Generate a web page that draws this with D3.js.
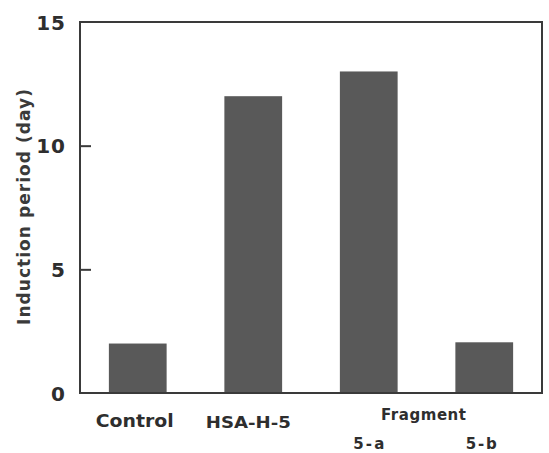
<!DOCTYPE html>
<html>
<head>
<meta charset="utf-8">
<script src="https://cdn.jsdelivr.net/npm/d3@7"></script>
<style>
  html, body { margin: 0; padding: 0; background: #fff; }
  svg text { font-family: "DejaVu Sans", "Liberation Sans", sans-serif; font-weight: bold; fill: #2e2e2e; }
</style>
</head>
<body>
<svg id="chart" width="549" height="453"></svg>
<script>
// Induction period by sample
const categories = ["Control", "HSA-H-5", "5-a", "5-b"];
const values = [2, 12, 13, 2.05];
const yTicks = [0, 5, 10, 15];
const groupLabel = "Fragment";
const yTitle = "Induction period (day)";

const svg = d3.select("#chart");
const box = { left: 80, right: 542, top: 22, bottom: 393 };

const x = d3.scaleBand()
  .domain(categories)
  .range([box.left, box.right])
  .paddingInner(0.5)
  .paddingOuter(0.25);

const y = d3.scaleLinear().domain([0, 15]).range([box.bottom, box.top]);

// bars
svg.append("g").selectAll("rect")
  .data(categories)
  .join("rect")
  .attr("x", d => x(d))
  .attr("width", x.bandwidth())
  .attr("y", (d, i) => y(values[i]))
  .attr("height", (d, i) => y(0) - y(values[i]))
  .attr("fill", "#595959");

// frame
svg.append("rect")
  .attr("x", box.left).attr("y", box.top)
  .attr("width", box.right - box.left).attr("height", box.bottom - box.top)
  .attr("fill", "none").attr("stroke", "#3a3a3a").attr("stroke-width", 2);

// y axis: inward ticks, labels on the left
const yAxis = d3.axisLeft(y).tickValues(yTicks).tickSize(-11).tickFormat(d3.format("d"));
const gy = svg.append("g").attr("transform", `translate(${box.left},0)`).call(yAxis);
gy.select(".domain").remove();
gy.selectAll(".tick line").attr("stroke", "#3a3a3a").attr("stroke-width", 2)
  .filter(d => d === 0 || d === 15).remove();
gy.selectAll(".tick text")
  .attr("x", -14)
  .style("font-size", "20px")
  .attr("dy", "0.36em")
  .attr("fill", "#333")
  .attr("letter-spacing", "1px");

// y title
svg.append("text")
  .attr("transform", `translate(30,${207}) rotate(-90)`)
  .attr("text-anchor", "middle")
  .style("font-size", "17px")
  .style("fill", "#3a3a3a")
  .attr("textLength", 236)
  .attr("lengthAdjust", "spacing")
  .text(yTitle);

// category labels
const labelY = { "Control": 427, "HSA-H-5": 428, "5-a": 449, "5-b": 449 };
const labelW = { "Control": 78, "HSA-H-5": 85, "5-a": 31, "5-b": 31 };
const labelSize = { "Control": 18, "HSA-H-5": 16, "5-a": 15, "5-b": 15 };
const labelDx = { "Control": -3, "HSA-H-5": -5, "5-a": 0, "5-b": -3 };
svg.append("g").selectAll("text")
  .data(categories)
  .join("text")
  .attr("x", d => x(d) + x.bandwidth() / 2 + labelDx[d])
  .attr("y", d => labelY[d])
  .attr("text-anchor", "middle")
  .style("font-size", d => labelSize[d] + "px")
  .attr("textLength", d => labelW[d])
  .attr("lengthAdjust", d => d.startsWith("5-") ? "spacing" : "spacingAndGlyphs")
  .text(d => d);

// group label over the two fragments
const fragCenter = (x("5-a") + x("5-b") + x.bandwidth()) / 2;
svg.append("text")
  .attr("x", fragCenter - 3)
  .attr("y", 420)
  .attr("text-anchor", "middle")
  .style("font-size", "15px")
  .attr("textLength", 85)
  .attr("lengthAdjust", "spacing")
  .text(groupLabel);
</script>
</body>
</html>
